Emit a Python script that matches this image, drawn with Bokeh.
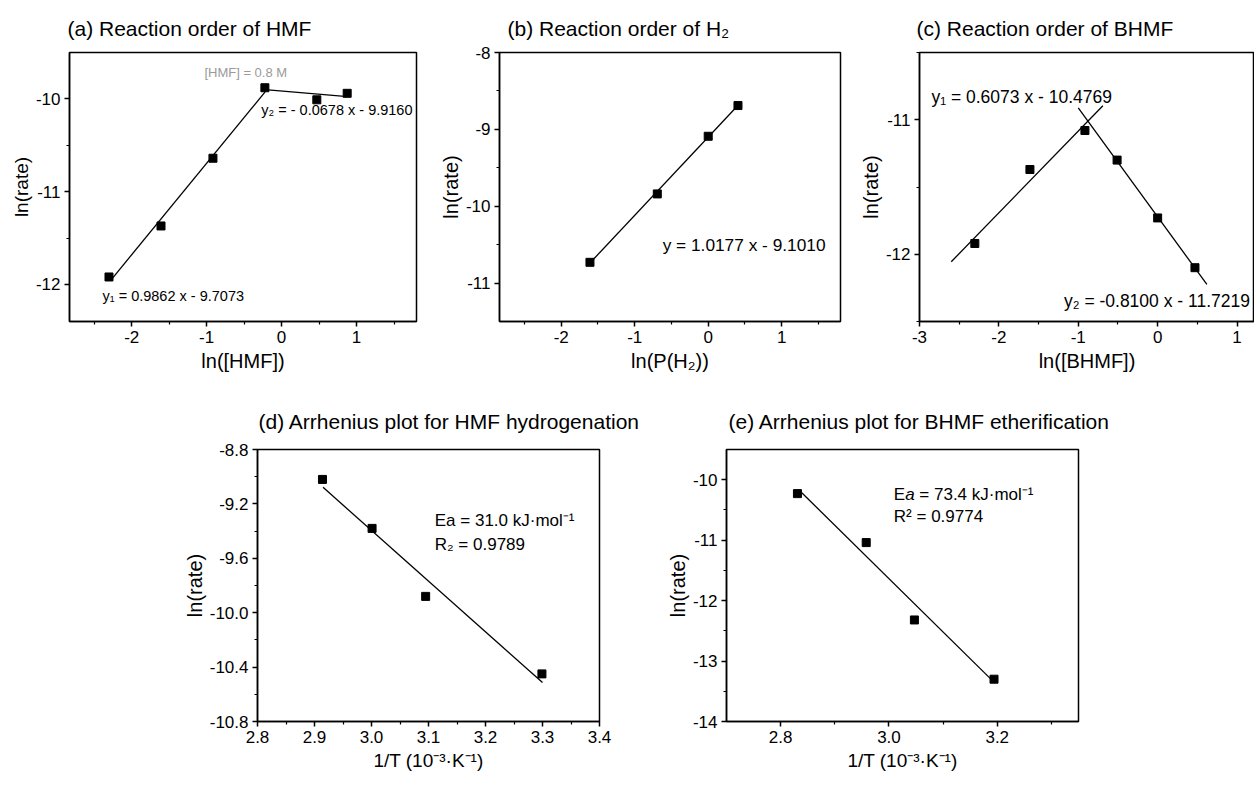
from bokeh.plotting import figure
from bokeh.models import FixedTicker, PrintfTickFormatter, Label, Range1d, Spacer
from bokeh.layouts import column, row
from bokeh.embed import file_html
from bokeh.resources import INLINE

FONT = "Liberation Sans"

# ---------------- data ----------------
# (a) Reaction order of HMF
a_x = [-2.303, -1.609, -0.916, -0.223, 0.470, 0.875]
a_y = [-11.92, -11.37, -10.64, -9.88, -10.01, -9.94]
a_slopes = [0.9862, -0.0678]
a_intercepts = [-9.7073, -9.9160]
a_spans = [(-2.28, -0.22), (-0.22, 0.88)]

# (b) Reaction order of H2
b_x = [-1.609, -0.693, 0.0, 0.405]
b_y = [-10.73, -9.84, -9.09, -8.69]
b_slopes = [1.0177]
b_intercepts = [-9.1010]
b_spans = [(-1.61, 0.41)]

# (c) Reaction order of BHMF
c_x = [-2.303, -1.609, -0.916, -0.511, 0.0, 0.470]
c_y = [-11.92, -11.37, -11.08, -11.30, -11.73, -12.10]
c_slopes = [0.6073, -0.8100]
c_intercepts = [-10.4769, -11.7219]
c_spans = [(-2.6, -0.69), (-1.0, 0.62)]

# (d) Arrhenius plot for HMF hydrogenation
d_x = [2.914, 3.001, 3.095, 3.299]
d_y = [-9.02, -9.38, -9.88, -10.45]
d_slopes = [-3.729]
d_intercepts = [1.792]
d_spans = [(2.915, 3.30)]

# (e) Arrhenius plot for BHMF etherification
e_x = [2.831, 2.958, 3.047, 3.194]
e_y = [-10.23, -11.04, -12.32, -13.30]
e_slopes = [-8.829]
e_intercepts = [14.85]
e_spans = [(2.839, 3.192)]

# tick values
int_ticks = [-3, -2, -1, 0, 1]
int_minor = [-2.5, -1.5, -0.5, 0.5, 1.5]
a_yticks = [-12, -11, -10]
a_yminor = [-11.5, -10.5]
b_yticks = [-11, -10, -9, -8]
b_yminor = [-10.5, -9.5, -8.5]
c_yticks = [-12, -11]
c_yminor = [-12.5, -11.5, -10.5]
d_xticks = [2.8, 2.9, 3.0, 3.1, 3.2, 3.3, 3.4]
d_xminor = [2.85, 2.95, 3.05, 3.15, 3.25, 3.35]
d_yticks = [-10.8, -10.4, -10.0, -9.6, -9.2, -8.8]
d_yminor = [-10.6, -10.2, -9.8, -9.4, -9.0]
e_xticks = [2.8, 3.0, 3.2]
e_xminor = [2.9, 3.1, 3.3]
e_yticks = [-14, -13, -12, -11, -10]
e_yminor = [-13.5, -12.5, -11.5, -10.5]


def panel(title, xlabel, xr, yr, xt, xmt, yt, ymt, xfmt, yfmt,
          width, height, bl, br, bt, bb, t_off, t_stand,
          ylabel_size="20px", xlabel_size="20px"):
    p = figure(width=width, height=height, x_range=Range1d(*xr), y_range=Range1d(*yr),
               output_backend="svg", toolbar_location=None,
               min_border_left=bl, min_border_right=br, min_border_top=bt,
               min_border_bottom=bb, title=title)
    p.title.text_font = FONT
    p.title.text_font_size = "21px"
    p.title.text_font_style = "normal"
    p.title.text_color = "black"
    p.title.align = "left"
    p.title.offset = t_off
    p.title.standoff = t_stand
    p.xgrid.visible = False
    p.ygrid.visible = False
    p.background_fill_color = "white"
    p.border_fill_color = "white"
    p.outline_line_color = "black"
    p.outline_line_width = 1.5
    p.outline_line_alpha = 1.0
    for ax, ticks, minor, fmt in ((p.xaxis[0], xt, xmt, xfmt), (p.yaxis[0], yt, ymt, yfmt)):
        ax.ticker = FixedTicker(ticks=ticks, minor_ticks=minor)
        ax.formatter = PrintfTickFormatter(format=fmt)
        ax.axis_line_color = "black"
        ax.axis_line_width = 1.5
        ax.major_tick_line_color = "black"
        ax.major_tick_line_width = 1.5
        ax.minor_tick_line_color = "black"
        ax.minor_tick_line_width = 1.2
        ax.major_tick_in = 0
        ax.major_tick_out = 5
        ax.minor_tick_in = 0
        ax.minor_tick_out = 3
        ax.major_label_text_font = FONT
        ax.major_label_text_font_size = "17px"
        ax.major_label_text_color = "black"
        ax.axis_label_text_font = FONT
        ax.axis_label_text_font_style = "normal"
        ax.axis_label_text_color = "black"
    p.xaxis[0].axis_label = xlabel
    p.xaxis[0].axis_label_text_font_size = xlabel_size
    p.xaxis[0].major_label_standoff = 4
    p.xaxis[0].axis_label_standoff = 4
    p.yaxis[0].axis_label = "ln(rate)"
    p.yaxis[0].axis_label_text_font_size = ylabel_size
    p.yaxis[0].major_label_standoff = 4
    p.yaxis[0].axis_label_standoff = 1
    return p


def draw(p, xs, ys, slopes, intercepts, spans):
    for m, b, (x0, x1) in zip(slopes, intercepts, spans):
        p.line([x0, x1], [m * x0 + b, m * x1 + b], line_color="black", line_width=1.3)
    p.scatter(xs, ys, marker="square", size=8, fill_color="black", line_color="black")


def label(p, x, y, text, size, color="black", style="normal", x_offset=0):
    p.add_layout(Label(x=x, y=y, text=text, text_font=FONT, text_font_size=size,
                       text_color=color, text_baseline="middle", text_align="left",
                       text_font_style=style, x_offset=x_offset))


TOP_H = 380
BOT_H = 404

# (a)
pa = panel("(a) Reaction order of HMF", "ln([HMF])", (-2.83, 1.8), (-12.4, -9.5),
           int_ticks, int_minor, a_yticks, a_yminor, "%.0f", "%.0f",
           420, TOP_H, 69, 4, 52, 59, -2, 26, ylabel_size="19px")
draw(pa, a_x, a_y, a_slopes, a_intercepts, a_spans)
label(pa, -1.03, -9.72, "[HMF] = 0.8 M", "13px", color="#9a9a9a")
label(pa, -0.27, -10.12, "y\u2082 = - 0.0678 x - 9.9160", "14.5px")
label(pa, -2.39, -12.12, "y\u2081 = 0.9862 x - 9.7073", "14.5px")

# (b)
pb = panel("(b) Reaction order of H\u2082", "ln(P(H\u2082))", (-2.84, 1.8), (-11.5, -8.0),
           int_ticks, int_minor, b_yticks, b_yminor, "%.0f", "%.0f",
           430, TOP_H, 79, 10, 52, 59, 8, 26)
draw(pb, b_x, b_y, b_slopes, b_intercepts, b_spans)
label(pb, -0.62, -10.5, "y = 1.0177 x - 9.1010", "17.3px")

# (c)
pc = panel("(c) Reaction order of BHMF", "ln([BHMF])", (-3.0, 1.22), (-12.5, -10.5),
           int_ticks, int_minor, c_yticks, c_yminor, "%.0f", "%.0f",
           404, TOP_H, 69, 0, 52, 59, -3, 26)
draw(pc, c_x, c_y, c_slopes, c_intercepts, c_spans)
label(pc, -2.85, -10.83, "y\u2081 = 0.6073 x - 10.4769", "17.5px")
label(pc, -1.18, -12.35, "y\u2082 = -0.8100 x - 11.7219", "17.5px")

# (d)
pd = panel("(d) Arrhenius plot for HMF hydrogenation", "1/T (10\u207b\u00b3\u00b7K\u207b\u00b9)",
           (2.8, 3.4), (-10.8, -8.8), d_xticks, d_xminor, d_yticks, d_yminor, "%.1f", "%.1f",
           470, BOT_H, 87, 41, 69, 63, 1, 34, xlabel_size="19px")
draw(pd, d_x, d_y, d_slopes, d_intercepts, d_spans)
label(pd, 3.111, -9.32, "Ea = 31.0 kJ\u00b7mol\u207b\u00b9", "17px")
label(pd, 3.111, -9.50, "R\u2082 = 0.9789", "17px")

# (e)
pe = panel("(e) Arrhenius plot for BHMF etherification", "1/T (10\u207b\u00b3\u00b7K\u207b\u00b9)",
           (2.7, 3.35), (-14.0, -9.5), e_xticks, e_xminor, e_yticks, e_yminor, "%.1f", "%.0f",
           480, BOT_H, 86, 42, 69, 63, 2, 34, xlabel_size="19px")
draw(pe, e_x, e_y, e_slopes, e_intercepts, e_spans)
label(pe, 3.009, -10.25, "E", "17px")
label(pe, 3.009, -10.25, "a", "17px", style="italic", x_offset=11.3)
label(pe, 3.009, -10.25, "= 73.4 kJ\u00b7mol\u207b\u00b9", "17px", x_offset=25.5)
label(pe, 3.009, -10.61, "R\u00b2 = 0.9774", "17px")

layout = column(row(pa, pb, pc), row(Spacer(width=170, height=BOT_H), pd, pe))

open("out.html", "w").write(file_html(layout, INLINE))
